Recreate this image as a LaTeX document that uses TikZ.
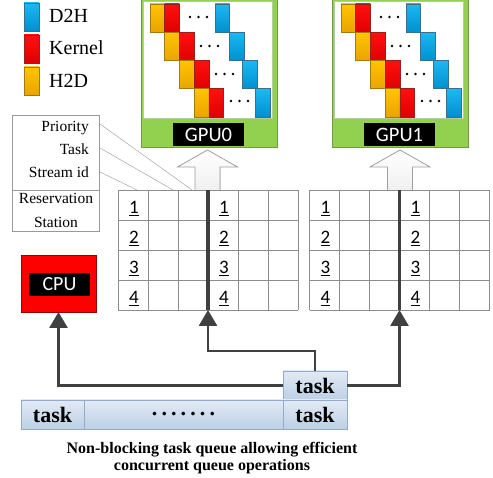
\documentclass[tikz,border=0pt]{standalone}
\usepackage{fontspec}
\setmainfont{Liberation Serif}[Ligatures=TeX]
\newfontfamily\timesfont{Liberation Serif}[Ligatures=TeX]
\newfontfamily\calfont{Carlito}
\usetikzlibrary{arrows.meta}

\definecolor{gpugreen}{HTML}{92D050}
\definecolor{gpuedge}{HTML}{6E9E3C}
\definecolor{hdtop}{HTML}{FFC400}
\definecolor{hdbot}{HTML}{EAA400}
\definecolor{hdedge}{HTML}{A27A10}
\definecolor{krtop}{HTML}{FF1010}
\definecolor{krbot}{HTML}{E00000}
\definecolor{kredge}{HTML}{9A2020}
\definecolor{dhtop}{HTML}{1CB8F2}
\definecolor{dhbot}{HTML}{0090D0}
\definecolor{dhedge}{HTML}{3A6F8C}
\definecolor{connc}{HTML}{404040}
\definecolor{gridc}{HTML}{8C8C8C}
\definecolor{qtopc}{HTML}{E2EAF4}
\definecolor{qbotc}{HTML}{BDD0E6}
\definecolor{qedge}{HTML}{93AACB}
\definecolor{cpured}{HTML}{FF0000}

\begin{document}
\begin{tikzpicture}[x=1pt,y=-1pt,
  hdblk/.style={top color=hdtop,bottom color=hdbot,draw=hdedge,line width=0.5pt},
  krblk/.style={top color=krtop,bottom color=krbot,draw=kredge,line width=0.5pt},
  dhblk/.style={top color=dhtop,bottom color=dhbot,draw=dhedge,line width=0.5pt},
  legendtext/.style={anchor=base west,inner sep=0pt,font=\timesfont\fontsize{20}{24}\selectfont},
  infotext/.style={inner sep=0pt,font=\timesfont\fontsize{15.5}{18}\selectfont},
  gpuframe/.style={fill=gpugreen,draw=gpuedge,line width=1pt},
  gpuinner/.style={fill=white,draw=gpuedge!50,line width=0.6pt},
  blacklabel/.style={fill=black,text=white,inner sep=0pt,outer sep=0pt,
    font=\calfont\fontsize{20.5}{24}\selectfont},
  bigarrow/.style={draw=gray!75,line width=0.7pt},
  gridline/.style={draw=gridc,line width=0.8pt},
  spine/.style={draw=connc,line width=3.2pt},
  slotnum/.style={anchor=base,inner sep=0pt,font=\calfont\fontsize{19}{22}\selectfont},
  qbox/.style={top color=qtopc,bottom color=qbotc,draw=qedge,line width=0.8pt,
    inner sep=0pt,outer sep=0pt,minimum height=29pt,
    font=\timesfont\bfseries\fontsize{22}{24}\selectfont},
  conn/.style={draw=connc,line width=2.8pt,
    -{Triangle[length=16pt,width=18pt]}},
  pointer/.style={draw=gray!70,line width=0.5pt}
]
\clip (0,0) rectangle (493,478);
\fill[white] (0,0) rectangle (493,478);

% legend
\draw[dhblk] (24,3) rectangle (39,31);
\draw[krblk] (24,35) rectangle (39,63);
\draw[hdblk] (24,67) rectangle (39,95);
\node[legendtext] (lgd2h) at (49,23) {D2H};
\node[legendtext] (lgker) at (49,55) {Kernel};
\node[legendtext] (lgh2d) at (49,88) {H2D};

% two GPUs with their pipelined streams
\foreach \gx in {0,191} {
  \begin{scope}[xshift=\gx pt]
    \draw[gpuframe] (141,-3) rectangle (277,148);
    \draw[gpuinner] (143.5,1.5) rectangle (272.5,118);
    \foreach \i/\bx/\dx/\dy in {0/215/190/17, 1/229.6/201/46, 2/242.4/216/74, 3/255.2/231/101} {
      \draw[hdblk] (150+14.7*\i,4+28.25*\i) rectangle (164.7+14.7*\i,32.25+28.25*\i);
      \draw[krblk] (164.7+14.7*\i,4+28.25*\i) rectangle (179.4+14.7*\i,32.25+28.25*\i);
      \draw[dhblk] (\bx,4+28.25*\i) rectangle (\bx+14.7,32.25+28.25*\i);
      \foreach \k in {0,1,2} \fill[black] (\dx+8.5*\k,\dy) circle (1.4);
    }
  \end{scope}
}
\node[blacklabel,minimum width=71pt,minimum height=23pt] (gpu0) at (208.5,134.5) {GPU0};
\node[blacklabel,minimum width=71pt,minimum height=23pt] (gpu1) at (399.5,134.5) {GPU1};

% dispatch arrows into the GPUs
\foreach \cx in {207.5,400} {
  \fill[top color=white,bottom color=gray!12]
    (\cx-12.5,190) -- (\cx-12.5,167) -- (\cx-30,167) -- (\cx,150) -- (\cx+30,167)
    -- (\cx+12.5,167) -- (\cx+12.5,190) -- cycle;
  \draw[bigarrow]
    (\cx-12.5,190) -- (\cx-12.5,167) -- (\cx-30,167) -- (\cx,150) -- (\cx+30,167)
    -- (\cx+12.5,167) -- (\cx+12.5,190);
}

% reservation-station legend box
\draw[draw=gray!80,line width=0.8pt,fill=white] (12,115) rectangle (99,231);
\draw[draw=gray!80,line width=0.8pt] (12,190) -- (99,190);
\node[infotext,anchor=base east] (lprio) at (89,132) {Priority};
\node[infotext,anchor=base east] (ltask) at (89,155) {Task};
\node[infotext,anchor=base east] (lsid) at (89,178) {Stream id};
\node[infotext,anchor=base] (lres) at (56,204) {Reservation};
\node[infotext,anchor=base] (lsta) at (56,228) {Station};
\coordinate (pprio) at (192,190);
\coordinate (ptask) at (173,190);
\coordinate (psid) at (137,190);
\draw[pointer] (100,124) -- (pprio);
\draw[pointer] (100,148) -- (ptask);
\draw[pointer] (100,172) -- (psid);

% reservation stations
\foreach \gx/\w in {118/30, 309.5/30} {
  \foreach \c in {0,...,6} \draw[gridline] (\gx+\w*\c,190) -- (\gx+\w*\c,310);
  \foreach \r in {0,...,4} \draw[gridline] (\gx,190+30*\r) -- (\gx+6*\w,190+30*\r);
  \foreach \r in {1,...,4} {
    \node[slotnum] at (\gx+16,190+30*\r-6) {\underline{\r}};
    \node[slotnum] at (\gx+106,190+30*\r-6) {\underline{\r}};
  }
}
\coordinate (s0top) at (208,190);
\coordinate (s0bot) at (208,310);
\coordinate (s1top) at (399.5,190);
\coordinate (s1bot) at (399.5,310);
\draw[spine] (s0top) -- (s0bot);
\draw[spine] (s1top) -- (s1bot);

% CPU
\node[fill=cpured,draw=red!60!black,line width=0.6pt,minimum width=75pt,minimum height=57pt,
  inner sep=0pt,outer sep=0pt] (cpu) at (58.5,283.5) {};
\node[blacklabel,minimum width=61pt,minimum height=23pt,font=\calfont\fontsize{20}{24}\selectfont]
  (cpulab) at (59.5,284.5) {CPU};

% task queue
\node[qbox,minimum width=64pt] (qhead) at (315,385.5) {task};
\node[qbox,minimum width=63pt] (qa) at (52.5,414.5) {task};
\node[qbox,minimum width=199pt] (qmid) at (183.5,414.5)
  {.\hspace{4.1pt}.\hspace{4.1pt}.\hspace{4.1pt}.\hspace{4.1pt}.\hspace{4.1pt}.\hspace{4.1pt}.};
\node[qbox,minimum width=64pt] (qb) at (315,414.5) {task};

% dispatch connectors
\draw[conn] (qhead.west) -| (cpu.south);
\draw[conn] (qhead.north) -- ++(0,-20) -| (s0bot);
\draw[conn] (qhead.east) -| (s1bot);

% caption
\node[align=center,inner sep=0pt,font=\timesfont\bfseries\fontsize{16}{17}\selectfont] (caption) at (212,458)
  {Non-blocking task queue allowing efficient\\concurrent queue operations};
\end{tikzpicture}
\end{document}
